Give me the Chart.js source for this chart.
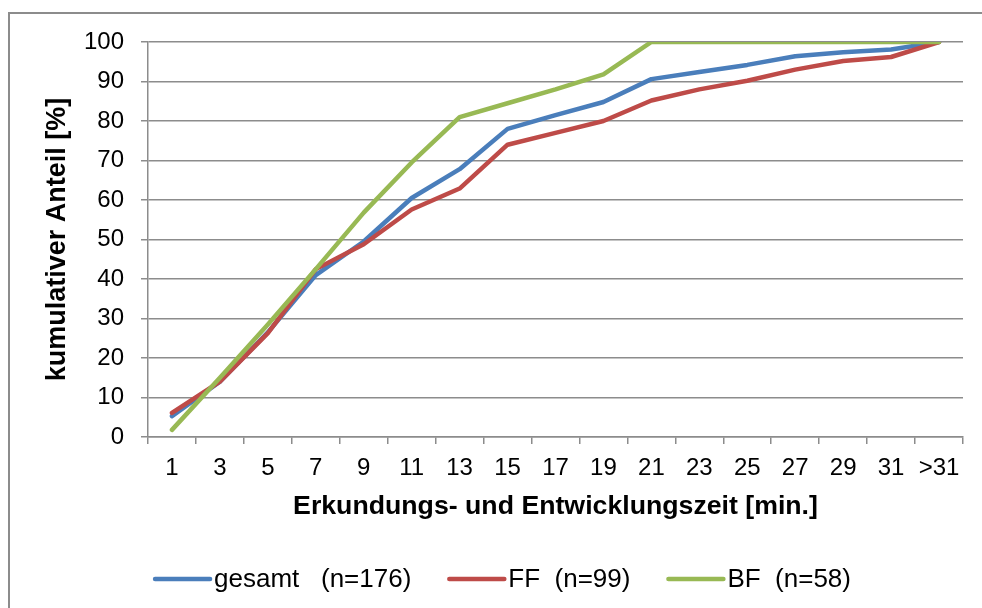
<!DOCTYPE html>
<html>
<head>
<meta charset="utf-8">
<script src="https://cdn.jsdelivr.net/npm/chart.js@4"></script>
<style>
  html, body { margin: 0; padding: 0; background: #fff; overflow: hidden; }
  #wrap { position: relative; width: 982px; height: 608px; }
  #frame { position: absolute; left: 8px; top: 12px; width: 1000px; height: 700px;
           border: 2px solid #8c8c8c; pointer-events: none; }
</style>
</head>
<body>
<div id="wrap">
  <canvas id="chart" width="982" height="608"></canvas>
  <div id="frame"></div>
</div>
<script>
const categories = ['1', '3', '5', '7', '9', '11', '13', '15', '17', '19', '21', '23', '25', '27', '29', '31', '>31'];
const gesamt = [5.3, 14, 26.5, 41, 49.5, 60.5, 67.8, 78, 81.5, 84.8, 90.6, 92.4, 94.2, 96.4, 97.4, 98.1, 100];
const ff = [6.1, 14, 26.3, 42.5, 48.8, 57.6, 62.9, 74, 77, 80, 85.2, 88, 90.2, 93, 95.2, 96.2, 100];
const bf = [1.8, 15, 28.5, 42.5, 56.8, 69.5, 81, 84.5, 88, 91.8, 100, 100, 100, 100, 100, 100, 100];
const seriesLabels = ['gesamt   (n=176)', 'FF  (n=99)', 'BF  (n=58)'];
const yTicks = [0, 10, 20, 30, 40, 50, 60, 70, 80, 90, 100];

const font = "'Liberation Sans', Arial, sans-serif";
const gridColor = '#8c8c8c';

// legend drawn by hand so the marker/text spacing matches the Excel look
const legendPlugin = {
    id: 'excelLegend',
    afterDraw(chart) {
        const ctx = chart.ctx;
        const y = 579;
        const lineLen = 55, gap = 4, itemGap = 38;
        ctx.save();
        ctx.font = '26px ' + font;
        const items = chart.data.datasets.slice().sort((a, b) => a.legendIndex - b.legendIndex);
        let total = 0;
        items.forEach((ds, i) => {
            total += lineLen + gap + ctx.measureText(ds.label).width;
            if (i < items.length - 1) total += itemGap;
        });
        let x = 503 - total / 2;
        items.forEach(ds => {
            ctx.strokeStyle = ds.borderColor;
            ctx.lineWidth = 4.5;
            ctx.lineCap = 'round';
            ctx.beginPath();
            ctx.moveTo(x, y);
            ctx.lineTo(x + lineLen, y);
            ctx.stroke();
            x += lineLen + gap;
            ctx.fillStyle = '#000';
            ctx.textBaseline = 'middle';
            ctx.textAlign = 'left';
            ctx.fillText(ds.label, x, y + 1);
            x += ctx.measureText(ds.label).width + itemGap;
        });
        ctx.restore();
    }
};

new Chart(document.getElementById('chart'), {
    type: 'line',
    data: {
        labels: categories,
        datasets: [
            { label: seriesLabels[0], data: gesamt, borderColor: '#4a7ebb', order: 2, legendIndex: 0 },
            { label: seriesLabels[1], data: ff, borderColor: '#be4b48', order: 1, legendIndex: 1 },
            { label: seriesLabels[2], data: bf, borderColor: '#98b954', order: 0, legendIndex: 2 }
        ].map(ds => Object.assign(ds, {
            borderWidth: 4.5,
            pointRadius: 0,
            tension: 0,
            fill: false,
            borderCapStyle: 'round',
            borderJoinStyle: 'round'
        }))
    },
    options: {
        responsive: false,
        animation: false,
        layout: { padding: { left: 41.6, top: 42, right: 19, bottom: 85 } },
        plugins: {
            legend: { display: false },
            tooltip: { enabled: false }
        },
        scales: {
            x: {
                offset: true,
                afterFit: scale => { scale.height = 86; },
                grid: { drawOnChartArea: false, offset: true, tickLength: 7, color: gridColor, lineWidth: 1.5 },
                border: { color: gridColor, width: 1.5 },
                ticks: { color: '#000', font: { family: font, size: 24 }, padding: 10, maxRotation: 0, autoSkip: false },
                title: {
                    display: true,
                    text: 'Erkundungs- und Entwicklungszeit [min.]',
                    color: '#000',
                    font: { family: font, size: 26.7, weight: 'bold' },
                    padding: { top: 9, bottom: 0 }
                }
            },
            y: {
                min: 0,
                max: 100,
                afterBuildTicks: axis => { axis.ticks = yTicks.map(v => ({ value: v })); },
                afterFit: scale => { scale.width = 106.4; },
                grid: { tickLength: 7, color: gridColor, lineWidth: 1.5 },
                border: { color: gridColor, width: 1.5 },
                ticks: { color: '#000', font: { family: font, size: 24 }, padding: 17 },
                title: {
                    display: true,
                    text: 'kumulativer Anteil [%]',
                    color: '#000',
                    font: { family: font, size: 27, weight: 'bold' },
                    padding: { top: 0, bottom: 10 }
                }
            }
        }
    },
    plugins: [legendPlugin]
});
</script>
</body>
</html>
